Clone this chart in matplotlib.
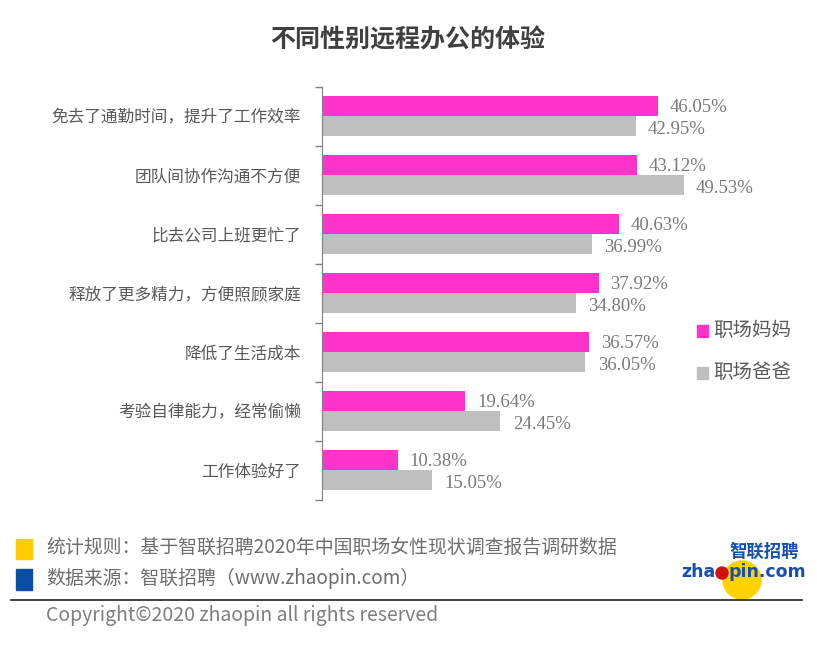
import matplotlib.pyplot as plt
from matplotlib.patches import Rectangle, Ellipse

plt.rcParams['font.family'] = ['Noto Sans CJK SC', 'DejaVu Sans']

categories = ['免去了通勤时间，提升了工作效率', '团队间协作沟通不方便', '比去公司上班更忙了',
              '释放了更多精力，方便照顾家庭', '降低了生活成本', '考验自律能力，经常偷懒', '工作体验好了']
moms = [46.05, 43.12, 40.63, 37.92, 36.57, 19.64, 10.38]
dads = [42.95, 49.53, 36.99, 34.80, 36.05, 24.45, 15.05]
series_names = ['职场妈妈', '职场爸爸']

pink = '#FF33CC'
grey = '#BFBFBF'
W, H = 817, 646

fig = plt.figure(figsize=(W / 100, H / 100), dpi=100)
ax = fig.add_axes([322 / W, 1 - 499.5 / H, 438 / W, 413 / H])

y = list(range(len(categories)))
bh = 0.34
ax.barh([i - bh / 2 for i in y], moms, height=bh, color=pink)
ax.barh([i + bh / 2 for i in y], dads, height=bh, color=grey)

for i in y:
    ax.text(moms[i] + 1.6, i - bh / 2 + 0.03, f'{moms[i]:.2f}%', va='center', ha='left',
            family='Liberation Serif', fontsize=13.5, color='#7A7A7A')
    ax.text(dads[i] + 1.7, i + bh / 2 + 0.06, f'{dads[i]:.2f}%', va='center', ha='left',
            family='Liberation Serif', fontsize=13.5, color='#7A7A7A')

ax.set_xlim(0, 60)
ax.set_ylim(len(categories) - 0.5, -0.5)
ax.set_xticks([])
ax.set_yticks(y)
ax.set_yticklabels(categories, fontsize=12, color='#595959')
ax.set_yticks([i + 0.5 for i in range(-1, len(categories))], minor=True)
ax.tick_params(axis='y', which='major', length=0, pad=15)
ax.tick_params(axis='y', which='minor', length=5, color='#808080', width=1)
for s in ['top', 'right', 'bottom']:
    ax.spines[s].set_visible(False)
ax.spines['left'].set_color('#808080')

# title
fig.text(408 / W, 1 - 40 / H, '不同性别远程办公的体验', ha='center', va='center',
         fontsize=18, fontweight='bold', color='#404040')

# legend
for k, (name, col) in enumerate(zip(series_names, [pink, grey])):
    yy = 331 + k * 42
    fig.patches.append(Rectangle((697 / W, 1 - (yy + 6) / H), 11 / W, 12 / H,
                                 transform=fig.transFigure, color=col))
    fig.text(713 / W, 1 - yy / H, name, ha='left', va='center', fontsize=14, color='#595959')

# footer
fig.patches.append(Rectangle((16 / W, 1 - 559 / H), 16 / W, 20 / H, transform=fig.transFigure, color='#FFCC00'))
fig.patches.append(Rectangle((16 / W, 1 - 590 / H), 16 / W, 21 / H, transform=fig.transFigure, color='#0A4DA2'))
fig.text(46 / W, 1 - 547 / H, '统计规则：基于智联招聘2020年中国职场女性现状调查报告调研数据',
         ha='left', va='center', fontsize=13.6, color='#6E6E6E')
fig.text(46 / W, 1 - 578 / H, '数据来源：智联招聘（www.zhaopin.com）',
         ha='left', va='center', fontsize=13.6, color='#6E6E6E')
fig.lines.append(plt.Line2D([11 / W, 802 / W], [1 - 600 / H, 1 - 600 / H], transform=fig.transFigure,
                            color='#202020', lw=1.2))
fig.text(46 / W, 1 - 615 / H, 'Copyright©2020 zhaopin all rights reserved',
         ha='left', va='center', fontsize=14, color='#7F7F7F')

# logo
fig.patches.append(Ellipse((742 / W, 1 - 580 / H), 38 / W, 38 / H, transform=fig.transFigure,
                           color='#FFD200', zorder=1))
fig.patches.append(Ellipse((722 / W, 1 - 573 / H), 12 / W, 12 / H, transform=fig.transFigure,
                           color='#D01010', zorder=2))
fig.text(764 / W, 1 - 552 / H, '智联招聘', ha='center', va='center', fontsize=12.5,
         fontweight='bold', color='#1550B0', zorder=3)
fig.text(715 / W, 1 - 572 / H, 'zha', ha='right', va='center', fontsize=12.5,
         fontweight='bold', family='DejaVu Sans', color='#1550B0', zorder=3)
fig.text(729 / W, 1 - 572 / H, 'pin.com', ha='left', va='center', fontsize=12.5,
         fontweight='bold', family='DejaVu Sans', color='#1550B0', zorder=3)

fig.savefig('out.png', dpi=100)
